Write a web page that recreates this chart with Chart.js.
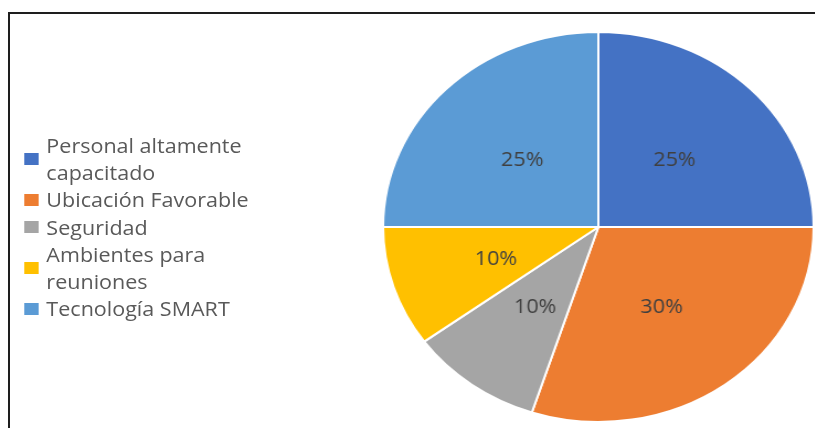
<!DOCTYPE html>
<html>
<head>
<meta charset="utf-8">
<title>Pie</title>
<script src="https://cdn.jsdelivr.net/npm/chart.js@4.4.1/dist/chart.umd.min.js"></script>
<style>
    body { margin: 0; background: #fff; width: 815px; height: 428px; overflow: hidden; position: relative; font-family: "Open Sans", sans-serif; }
    #frame { position: absolute; left: 8px; top: 12px; width: 900px; height: 500px; border-left: 2px solid #1e1e1e; border-top: 2px solid #1e1e1e; }
    /* la imagen original está estirada en horizontal */
    #stretch { position: absolute; left: 0; top: 0; width: 739px; height: 428px; transform: scaleX(1.104); transform-origin: 0 0; }
    #pie-box { position: absolute; left: 346px; top: 31px; width: 392px; height: 392px; }
    #legend { position: absolute; left: 22px; top: 132px; font-size: 19.5px; line-height: 27.2px; color: #595959; }
    .item { display: flex; align-items: center; }
    .box { width: 13px; height: 12px; margin-right: 7px; flex: none; }
</style>
</head>
<body>
<div id="frame"></div>
<div id="stretch">
    <div id="legend"></div>
    <div id="pie-box"><canvas id="pie-chart"></canvas></div>
</div>
<script>
const labels = [
    ['Personal altamente', 'capacitado'],
    ['Ubicación Favorable'],
    ['Seguridad'],
    ['Ambientes para', 'reuniones'],
    ['Tecnología SMART']
];
const values = [25, 30, 10, 10, 25];
const colors = ['#4472C4', '#ED7D31', '#A5A5A5', '#FFC000', '#5B9BD5'];

// etiquetas de porcentaje en el centro de cada sector
const pctLabels = {
    id: 'pctLabels',
    afterDatasetsDraw(chart) {
        const ctx = chart.ctx;
        const meta = chart.getDatasetMeta(0);
        ctx.save();
        ctx.font = '19.5px "Open Sans"';
        ctx.fillStyle = '#404040';
        ctx.textAlign = 'center';
        ctx.textBaseline = 'middle';
        meta.data.forEach((arc, i) => {
            const p = arc.tooltipPosition();
            ctx.fillText(values[i] + '%', p.x, p.y + 2);
        });
        ctx.restore();
    }
};

function renderLegend() {
    const legend = document.getElementById('legend');
    labels.forEach((lines, i) => {
        const item = document.createElement('div');
        item.className = 'item';
        item.innerHTML = `<span class="box" style="background:${colors[i]}"></span><span>${lines.join('<br>')}</span>`;
        legend.appendChild(item);
    });
}

renderLegend();

new Chart(document.getElementById('pie-chart'), {
    type: 'pie',
    data: {
        labels: labels,
        datasets: [{
            data: values,
            backgroundColor: colors,
            borderColor: '#ffffff',
            borderWidth: 2
        }]
    },
    options: {
        responsive: true,
        maintainAspectRatio: false,
        animation: false,
        events: [],
        layout: { padding: 0 },
        plugins: {
            legend: { display: false },
            tooltip: { enabled: false }
        }
    },
    plugins: [pctLabels]
});
</script>
</body>
</html>
